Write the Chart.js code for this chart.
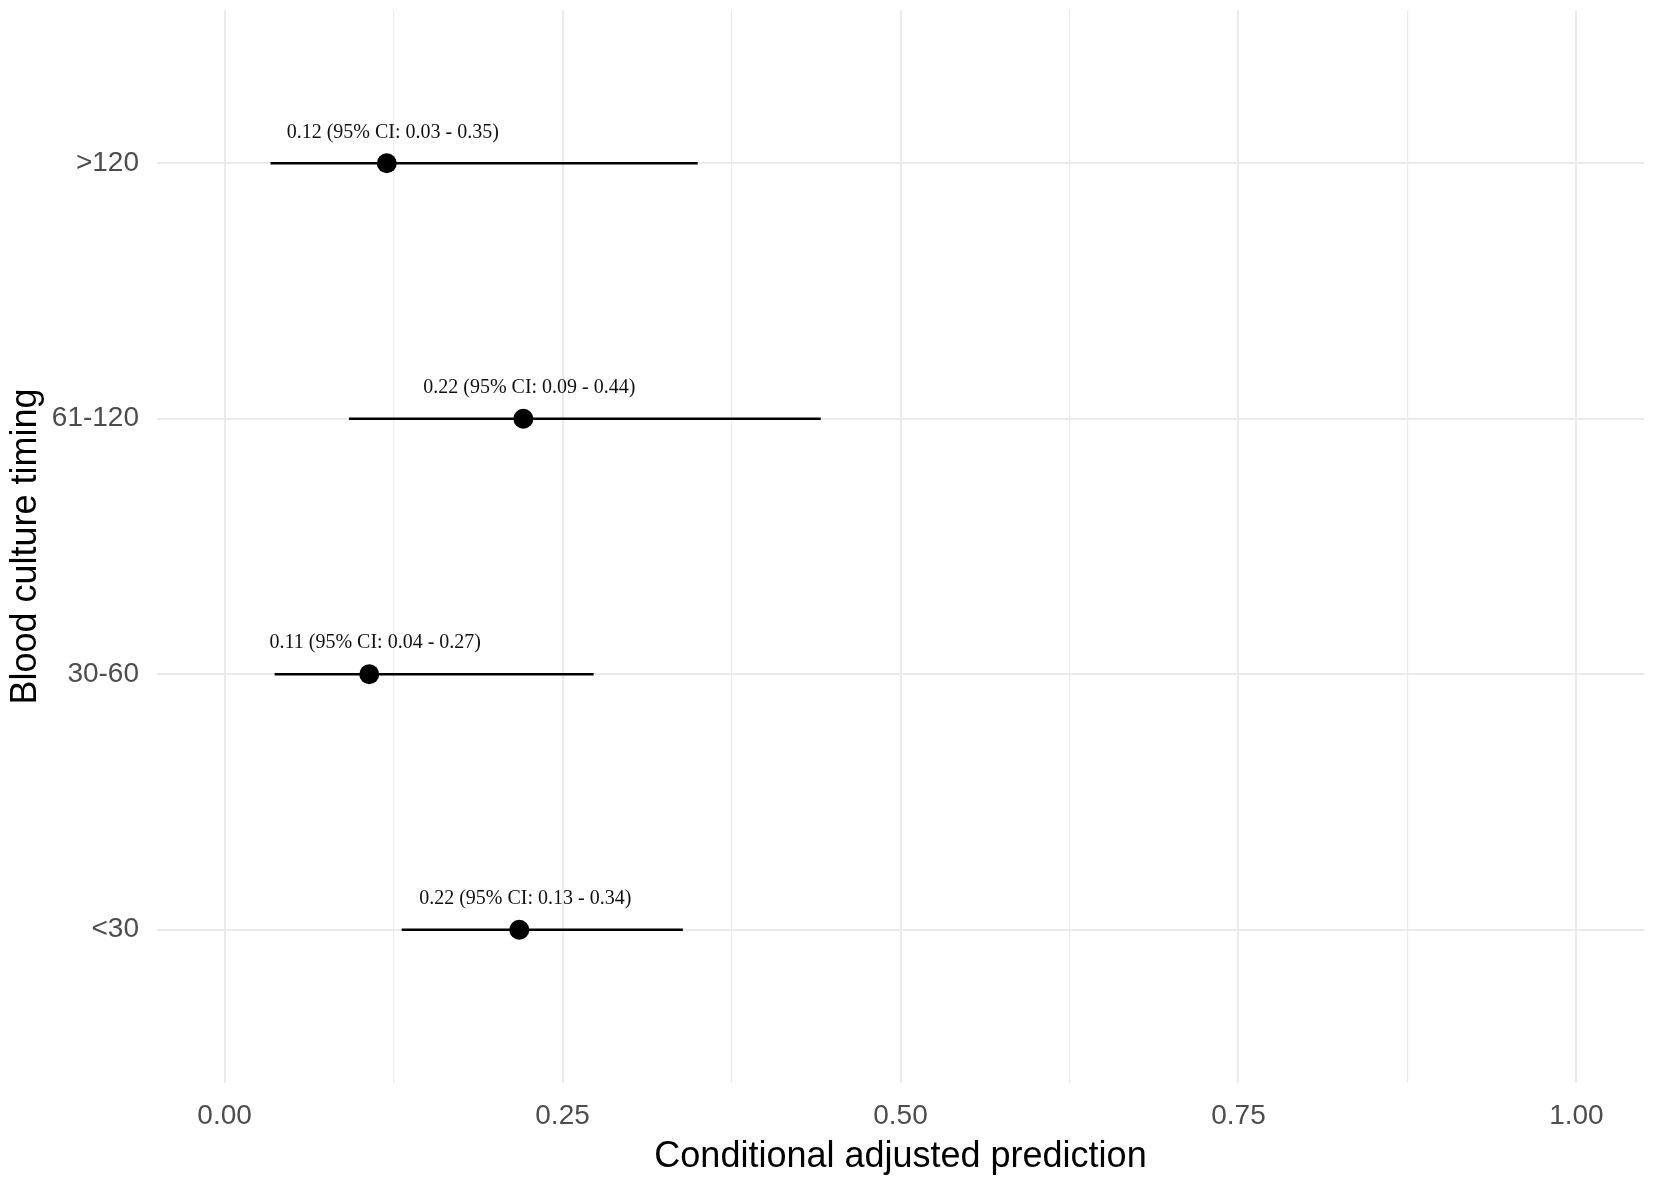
<!DOCTYPE html>
<html>
<head>
<meta charset="utf-8">
<script src="https://cdn.jsdelivr.net/npm/chart.js@4.4.1/dist/chart.umd.min.js"></script>
<style>
  html, body { margin: 0; padding: 0; background: #ffffff; }
  #wrap { width: 1654px; height: 1183px; }
</style>
</head>
<body>
<div id="wrap"><canvas id="c" width="1654" height="1183"></canvas></div>
<script>
// ---- data (top = first) ----
const categories = ['>120', '61-120', '30-60', '<30'];
const estimate   = [0.120, 0.221, 0.107, 0.218];
const lower      = [0.034, 0.092, 0.037, 0.131];
const upper      = [0.350, 0.441, 0.273, 0.339];
const pointLabels = [
  '0.12 (95% CI: 0.03 - 0.35)',
  '0.22 (95% CI: 0.09 - 0.44)',
  '0.11 (95% CI: 0.04 - 0.27)',
  '0.22 (95% CI: 0.13 - 0.34)'
];
const xTickValues = [0, 0.125, 0.25, 0.375, 0.5, 0.625, 0.75, 0.875, 1.0];
const xMajorTicks = [0, 0.25, 0.5, 0.75, 1.0];
const xTitle = 'Conditional adjusted prediction';
const yTitle = 'Blood culture timing';

// ---- build datasets ----
const ciDatasets = categories.map((c, i) => ({
  type: 'line',
  data: [{x: lower[i], y: i}, {x: upper[i], y: i}],
  borderColor: '#000000',
  borderWidth: 2.5,
  pointRadius: 0,
  fill: false,
  order: 2
}));
const pointDataset = {
  type: 'scatter',
  data: categories.map((c, i) => ({x: estimate[i], y: i})),
  backgroundColor: '#000000',
  borderColor: '#000000',
  borderWidth: 0,
  pointRadius: 10,
  pointHoverRadius: 10,
  order: 0
};

const isMajor = v => xMajorTicks.some(m => Math.abs(m - v) < 1e-9);

const labelPlugin = {
  id: 'ciLabels',
  afterDatasetsDraw(chart) {
    const ctx = chart.ctx;
    const xs = chart.scales.x, ys = chart.scales.y;
    ctx.save();
    ctx.font = '20px "Liberation Serif", "Times New Roman", serif';
    ctx.fillStyle = '#111111';
    ctx.textAlign = 'center';
    ctx.textBaseline = 'middle';
    pointLabels.forEach((t, i) => {
      const px = xs.getPixelForValue(estimate[i]) + 6;
      const py = ys.getPixelForValue(i) - 31;
      ctx.fillText(t, px, py);
    });
    ctx.restore();
  }
};

new Chart(document.getElementById('c'), {
  data: { datasets: [pointDataset, ...ciDatasets] },
  options: {
    responsive: false,
    animation: false,
    devicePixelRatio: 1,
    layout: { padding: { left: 0, right: 8, top: 8, bottom: 0 } },
    plugins: { legend: { display: false }, tooltip: { enabled: false } },
    scales: {
      x: {
        type: 'linear',
        position: 'bottom',
        min: -0.05,
        max: 1.05,
        afterBuildTicks: s => { s.ticks = xTickValues.map(v => ({ value: v })); },
        afterFit: s => { s.height = 100; s.paddingLeft = 0; s.paddingRight = 0; },
        border: { display: false },
        grid: {
          color: '#ebebeb',
          lineWidth: ctx => (ctx.tick && isMajor(ctx.tick.value)) ? 2 : 1.2,
          drawTicks: false
        },
        ticks: {
          autoSkip: false,
          maxRotation: 0,
          padding: 16,
          color: '#4d4d4d',
          font: { family: '"Liberation Sans", Arial, sans-serif', size: 28 },
          callback: v => isMajor(v) ? v.toFixed(2) : ''
        },
        title: {
          display: true,
          text: xTitle,
          color: '#000000',
          font: { family: '"Liberation Sans", Arial, sans-serif', size: 36 },
          padding: { top: 0, bottom: 4 }
        }
      },
      y: {
        type: 'linear',
        position: 'left',
        min: -0.6,
        max: 3.6,
        reverse: true,
        afterBuildTicks: s => { s.ticks = categories.map((c, i) => ({ value: i })); },
        afterFit: s => { s.width = 157; s.paddingTop = 0; s.paddingBottom = 0; },
        border: { display: false },
        grid: { color: '#ebebeb', lineWidth: 2, drawTicks: false },
        ticks: {
          autoSkip: false,
          padding: 18,
          color: '#4d4d4d',
          font: { family: '"Liberation Sans", Arial, sans-serif', size: 28 },
          callback: v => categories[Math.round(v)] ?? ''
        },
        title: {
          display: true,
          text: yTitle,
          color: '#000000',
          font: { family: '"Liberation Sans", Arial, sans-serif', size: 36 },
          padding: { top: 4, bottom: 0 }
        }
      }
    }
  },
  plugins: [labelPlugin]
});
</script>
</body>
</html>
